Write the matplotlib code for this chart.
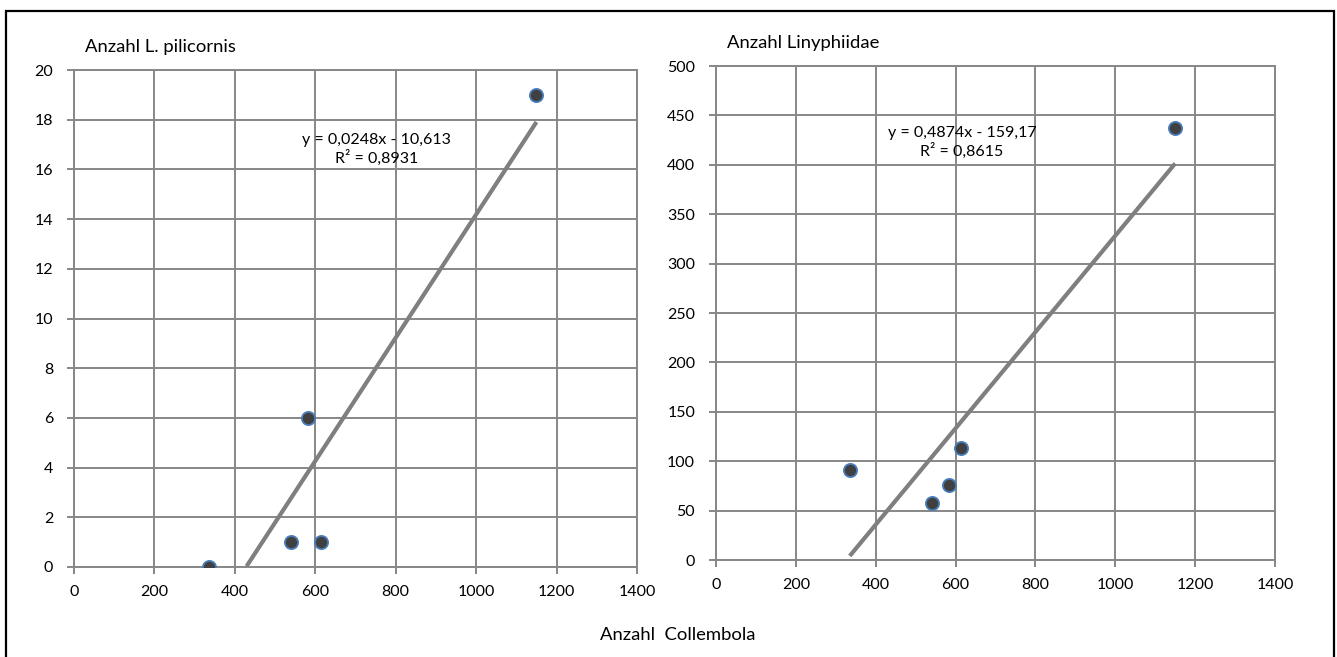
import numpy as np
import matplotlib.pyplot as plt
from matplotlib.patches import Rectangle

plt.rcParams['font.family'] = ['Lato', 'DejaVu Sans']

# data
collembola = [335, 540, 583, 613, 1150]
pilicornis = [0, 1, 6, 1, 19]
linyphiidae = [91, 58, 76, 113, 437]

# trendline coefficients (slope, intercept) and R^2 as printed in the chart
fit_pilicornis = (0.0248, -10.613)
fit_linyphiidae = (0.4874, -159.17)
r2_pilicornis = 0.8931
r2_linyphiidae = 0.8615

x_ticks = np.arange(0, 1401, 200)
y_ticks_left = np.arange(0, 21, 2)
y_ticks_right = np.arange(0, 501, 50)

GRID = '#878787'
LINE = '#7f7f7f'
FS = 11.5
FS_TITLE = 13.3


def fmt(v, nd):
    return f'{abs(v):.{nd}f}'.replace('.', ',')


def draw_panel(ax, x, y, fit, r2, yticks, ylabel, eq_pos, nd):
    ax.set_xlim(0, 1400)
    ax.set_ylim(yticks[0], yticks[-1])
    ax.set_xticks(x_ticks)
    ax.set_yticks(yticks)
    ax.grid(True, color=GRID, lw=1.4)
    ax.set_axisbelow(True)
    for s in ax.spines.values():
        s.set_color(GRID)
        s.set_linewidth(1.4)
    ax.tick_params(axis='y', direction='out', length=5, width=1.4, color=GRID,
                   pad=10, labelsize=FS)
    ax.tick_params(axis='x', direction='out', length=5, width=1.4, color=GRID,
                   pad=8, labelsize=FS)

    # linear trendline over the data range, clipped by the axis like Excel
    xs = np.linspace(min(x), max(x), 200)
    ys = fit[0] * xs + fit[1]
    keep = ys >= yticks[0]
    ax.plot(xs[keep], ys[keep], color=LINE, lw=3, solid_capstyle='butt', zorder=3)

    ax.scatter(x, y, s=90, color='#404040', edgecolors='#4a7ebb', linewidths=1.3,
               zorder=4)

    sign = '-' if fit[1] < 0 else '+'
    ax.text(eq_pos[0], eq_pos[1],
            f'y = {fmt(fit[0], 4)}x {sign} {fmt(fit[1], nd)}\nR² = {fmt(r2, 4)}',
            ha='center', va='center', fontsize=FS, linespacing=1.25,
            transform=ax.transAxes, zorder=5)
    ax.text(0.02, 1.047, ylabel, transform=ax.transAxes, fontsize=FS_TITLE,
            ha='left', va='center')


fig = plt.figure(figsize=(13.37, 6.57), dpi=100)

ax1 = fig.add_axes([74 / 1337, (657 - 567) / 657, 563 / 1337, 497 / 657])
draw_panel(ax1, collembola, pilicornis, fit_pilicornis, r2_pilicornis,
           y_ticks_left, 'Anzahl L. pilicornis', (0.538, 0.84), 3)

ax2 = fig.add_axes([716 / 1337, (657 - 560) / 657, 559 / 1337, 494 / 657])
draw_panel(ax2, collembola, linyphiidae, fit_linyphiidae, r2_linyphiidae,
           y_ticks_right, 'Anzahl Linyphiidae', (0.44, 0.845), 2)

fig.text(678 / 1337, 1 - 635 / 657, 'Anzahl  Collembola', ha='center', va='center',
         fontsize=FS_TITLE)

frame = Rectangle((6 / 1337, -0.05), 1328 / 1337, 1.05 - 11 / 657,
                  transform=fig.transFigure, fill=False, edgecolor='black',
                  lw=1.6, clip_on=False)
fig.add_artist(frame)

fig.savefig('out.png', dpi=100)
